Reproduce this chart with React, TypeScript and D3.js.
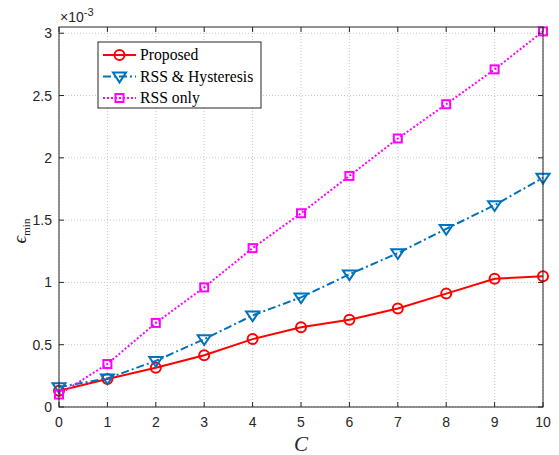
import React from "react";
import * as d3 from "d3";

const cValues = [0, 1, 2, 3, 4, 5, 6, 7, 8, 9, 10];
const proposed = [0.13, 0.225, 0.315, 0.415, 0.545, 0.64, 0.70, 0.79, 0.91, 1.03, 1.05];
const rssHyst = [0.16, 0.23, 0.37, 0.545, 0.735, 0.88, 1.065, 1.235, 1.43, 1.62, 1.84];
const rssOnly = [0.10, 0.345, 0.675, 0.96, 1.275, 1.555, 1.855, 2.155, 2.43, 2.71, 3.015];
const yTicks = [0, 0.5, 1, 1.5, 2, 2.5, 3];
const yTickLabels = ["0", "0.5", "1", "1.5", "2", "2.5", "3"];
const seriesNames = ["Proposed", "RSS & Hysteresis", "RSS only"];

const W = 559, H = 455;
const L = 59, R = 543, T = 27, B = 407;

export default function App() {
  const x = d3.scaleLinear().domain([0, 10]).range([L, R]);
  const y = d3.scaleLinear().domain([0, 3.05]).range([B, T]);
  const line = d3.line<number>().x((_, i) => x(cValues[i])).y((d) => y(d));

  const series = [
    { name: seriesNames[0], data: proposed, color: "#ff0000", dash: "none", marker: "circle" },
    { name: seriesNames[1], data: rssHyst, color: "#0072BD", dash: "8,3,2,3", marker: "tri" },
    { name: seriesNames[2], data: rssOnly, color: "#ff00ff", dash: "2,2", marker: "square" },
  ];

  const marker = (type: string, cx: number, cy: number, color: string, key: any) => {
    if (type === "circle")
      return <circle key={key} cx={cx} cy={cy} r={5} fill="none" stroke={color} strokeWidth={2} />;
    if (type === "tri") {
      const s = 6.5;
      const pts = `${cx - s},${cy - s * 0.6} ${cx + s},${cy - s * 0.6} ${cx},${cy + s * 0.9}`;
      return <polygon key={key} points={pts} fill="none" stroke={color} strokeWidth={2} />;
    }
    return <rect key={key} x={cx - 4} y={cy - 4} width={8} height={8} fill="none" stroke={color} strokeWidth={2} />;
  };

  const axisColor = "#262626";
  const font = "Liberation Sans, Arial, sans-serif";
  const serif = "Liberation Serif, Times New Roman, serif";

  return (
    <svg width={W} height={H} style={{ position: "absolute", left: 0, top: 0 }}>
      <rect x={0} y={0} width={W} height={H} fill="#fff" />
      {cValues.map((c) => (
        <line key={"gx" + c} x1={x(c)} x2={x(c)} y1={T} y2={B} stroke="#c8c8c8" strokeWidth={1} strokeDasharray="1,2" />
      ))}
      {yTicks.map((t) => (
        <line key={"gy" + t} x1={L} x2={R} y1={y(t)} y2={y(t)} stroke="#c8c8c8" strokeWidth={1} strokeDasharray="1,2" />
      ))}
      {series.map((s) => (
        <g key={s.name}>
          <path d={line(s.data) || ""} fill="none" stroke={s.color} strokeWidth={2} strokeDasharray={s.dash} />
          {s.data.map((v, i) => marker(s.marker, x(cValues[i]), y(v), s.color, i))}
        </g>
      ))}
      <rect x={L} y={T} width={R - L} height={B - T} fill="none" stroke={axisColor} strokeWidth={1} />
      {cValues.map((c) => (
        <g key={"tx" + c}>
          <line x1={x(c)} x2={x(c)} y1={B} y2={B - 5} stroke={axisColor} />
          <line x1={x(c)} x2={x(c)} y1={T} y2={T + 5} stroke={axisColor} />
          <text x={x(c)} y={B + 20} textAnchor="middle" fontFamily={font} fontSize={14} fill={axisColor}>{c}</text>
        </g>
      ))}
      {yTicks.map((t, i) => (
        <g key={"ty" + t}>
          <line x1={L} x2={L + 5} y1={y(t)} y2={y(t)} stroke={axisColor} />
          <line x1={R} x2={R - 5} y1={y(t)} y2={y(t)} stroke={axisColor} />
          <text x={L - 7} y={y(t) + 5} textAnchor="end" fontFamily={font} fontSize={14} fill={axisColor}>{yTickLabels[i]}</text>
        </g>
      ))}
      <text x={60} y={22} fontFamily={font} fontSize={14} fill={axisColor}>
        ×10<tspan dy={-6} fontSize={11}>-3</tspan>
      </text>
      <text x={(L + R) / 2} y={451} textAnchor="middle" fontFamily={serif} fontStyle="italic" fontSize={21} fill={axisColor}>C</text>
      <text transform={`translate(26,${(T + B) / 2 + 14}) rotate(-90)`} textAnchor="middle" fontFamily={serif} fontSize={19} fill={axisColor}>
        <tspan fontStyle="italic">ϵ</tspan>
        <tspan fontSize={11} dy={4}>min</tspan>
      </text>
      <rect x={98} y={42} width={163} height={66} fill="#fff" stroke={axisColor} strokeWidth={1} />
      {series.map((s, i) => {
        const ly = 55 + i * 21.5;
        return (
          <g key={"lg" + i}>
            <line x1={103} x2={136} y1={ly} y2={ly} stroke={s.color} strokeWidth={2} strokeDasharray={s.dash} />
            {marker(s.marker, 119.5, ly, s.color, "m")}
            <text x={140} y={ly + 5} fontFamily={serif} fontSize={15.7} fill="#000">{s.name}</text>
          </g>
        );
      })}
    </svg>
  );
}
